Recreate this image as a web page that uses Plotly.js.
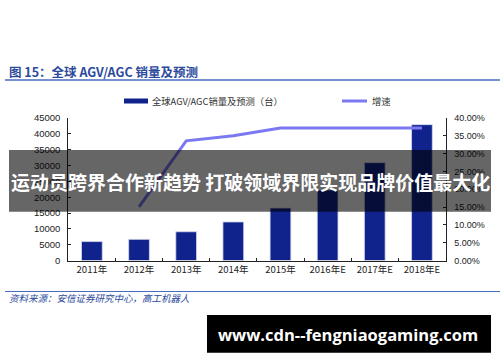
<!DOCTYPE html>
<html>
<head>
<meta charset="utf-8">
<script src="https://cdn.plot.ly/plotly-3.0.1.min.js"></script>
<style>
html,body{margin:0;padding:0;background:#fff;}
#chart{width:500px;height:362px;}
</style>
</head>
<body>
<div id="chart"></div>
<script>
// ---- data ----
const categories = ['2011年','2012年','2013年','2014年','2015年','2016年E','2017年E','2018年E'];
const salesUnits = [6000, 6700, 9100, 12200, 16600, 22300, 30900, 42900];
const growthRate = [null, 0.151, 0.336, 0.350, 0.372, 0.372, 0.372, 0.372];
const seriesNames = ['全球AGV/AGC销量及预测（台）', '增速'];
const leftTicks = [0,5000,10000,15000,20000,25000,30000,35000,40000,45000];
const rightTicks = [0,0.05,0.10,0.15,0.20,0.25,0.30,0.35,0.40];
const titleText = '图 15：全球 AGV/AGC 销量及预测';
const sourceText = '资料来源：安信证券研究中心，高工机器人';
const bannerText = '运动员跨界合作新趋势 打破领域界限实现品牌价值最大化';
const watermarkText = 'www.cdn--fengniaogaming.com';

const barColor = '#10238c';
const lineColor = '#7b78f2';
const blueText = '#2b4a9c';
const CJK = '"Noto Sans CJK SC", "Liberation Sans", Arial, sans-serif';
const ARIAL = '"Liberation Sans", Arial, "Noto Sans CJK SC", sans-serif';

const traces = [
  {
    type: 'bar', x: categories, y: salesUnits, name: seriesNames[0],
    marker: {color: barColor, line: {color: '#d6d9ee', width: 0.8}},
    width: 0.44, yaxis: 'y', showlegend: false, hoverinfo: 'skip'
  },
  {
    type: 'scatter', mode: 'lines', x: categories, y: growthRate, name: seriesNames[1],
    line: {color: lineColor, width: 3}, yaxis: 'y2', showlegend: false, hoverinfo: 'skip'
  }
];

const yDom = [(362-260.6)/362, (362-118)/362];
const xDom = [68.3/500, 445.5/500];

const layout = {
  width: 500, height: 362,
  margin: {l: 0, r: 0, t: 0, b: 0},
  paper_bgcolor: '#fff', plot_bgcolor: '#fff',
  showlegend: false,
  xaxis: {
    domain: xDom, type: 'category',
    showline: true, linecolor: '#222', linewidth: 1,
    ticks: 'inside', ticklen: 3, tickcolor: '#222', tickson: 'boundaries',
    tickfont: {family: CJK, size: 9.5, color: '#222'},
    showgrid: false, zeroline: false, fixedrange: true
  },
  yaxis: {
    domain: yDom, range: [0, 45000], tickvals: leftTicks, tickformat: 'd',
    showline: true, linecolor: '#222', linewidth: 1,
    ticks: 'inside', ticklen: 3, tickcolor: '#222',
    tickfont: {family: ARIAL, size: 9.5, color: '#222'},
    showgrid: false, zeroline: false, ticklabelstandoff: 5
  },
  yaxis2: {
    overlaying: 'y', side: 'right', range: [0, 0.4], tickvals: rightTicks,
    tickformat: '.2%',
    showline: true, linecolor: '#222', linewidth: 1,
    ticks: 'inside', ticklen: 3, tickcolor: '#222',
    tickfont: {family: ARIAL, size: 9, color: '#222'},
    showgrid: false, zeroline: false, ticklabelstandoff: 6
  },
  shapes: [
    {type: 'line', xref: 'paper', yref: 'paper', x0: 5/500, x1: 500/500, y0: 1-80/362, y1: 1-80/362,
     line: {color: '#4a6cc0', width: 1.5}},
    {type: 'line', xref: 'paper', yref: 'paper', x0: 5/500, x1: 500/500, y0: 1-291.5/362, y1: 1-291.5/362,
     line: {color: '#4a6cc0', width: 1.2}},
    {type: 'rect', xref: 'paper', yref: 'paper', x0: 124/500, x1: 148/500, y0: 1-103.5/362, y1: 1-98.5/362,
     fillcolor: barColor, line: {width: 0}},
    {type: 'line', xref: 'paper', yref: 'paper', x0: 342/500, x1: 367/500, y0: 1-101/362, y1: 1-101/362,
     line: {color: lineColor, width: 3}},
    {type: 'rect', xref: 'paper', yref: 'paper', x0: 9/500, x1: 491/500, y0: 1-211.7/362, y1: 1-150/362,
     fillcolor: 'rgba(0,0,0,0.6)', line: {width: 0}, layer: 'above'},
    {type: 'rect', xref: 'paper', yref: 'paper', x0: 207/500, x1: 491/500, y0: 1-352.7/362, y1: 1-315/362,
     fillcolor: '#000', line: {width: 0}, layer: 'above'}
  ],
  annotations: [
    {text: '<b>' + titleText + '</b>', xref: 'paper', yref: 'paper', x: 7/500, y: 1-71/362,
     xanchor: 'left', yanchor: 'middle', showarrow: false,
     font: {family: CJK, size: 12.5, color: blueText}},
    {text: seriesNames[0], xref: 'paper', yref: 'paper', x: 150/500, y: 1-101/362,
     xanchor: 'left', yanchor: 'middle', showarrow: false,
     font: {family: CJK, size: 9.3, color: '#333'}},
    {text: seriesNames[1], xref: 'paper', yref: 'paper', x: 370/500, y: 1-101/362,
     xanchor: 'left', yanchor: 'middle', showarrow: false,
     font: {family: CJK, size: 9.3, color: '#333'}},
    {text: '<i>' + sourceText + '</i>', xref: 'paper', yref: 'paper', x: 7/500, y: 1-298/362,
     xanchor: 'left', yanchor: 'middle', showarrow: false,
     font: {family: CJK, size: 9.5, color: blueText}},
    {text: '<b>' + bannerText + '</b>', xref: 'paper', yref: 'paper', x: 250/500, y: 1-181/362,
     xanchor: 'center', yanchor: 'middle', showarrow: false,
     font: {family: CJK, size: 19, color: '#fff'}},
    {text: '<b>' + watermarkText + '</b>', xref: 'paper', yref: 'paper', x: 348/500, y: 1-334/362,
     xanchor: 'center', yanchor: 'middle', showarrow: false,
     font: {family: '"Open Sans", "DejaVu Sans", sans-serif', size: 16.5, color: '#fff'}}
  ]
};

Plotly.newPlot('chart', traces, layout, {staticPlot: true, displayModeBar: false});
</script>
</body>
</html>
